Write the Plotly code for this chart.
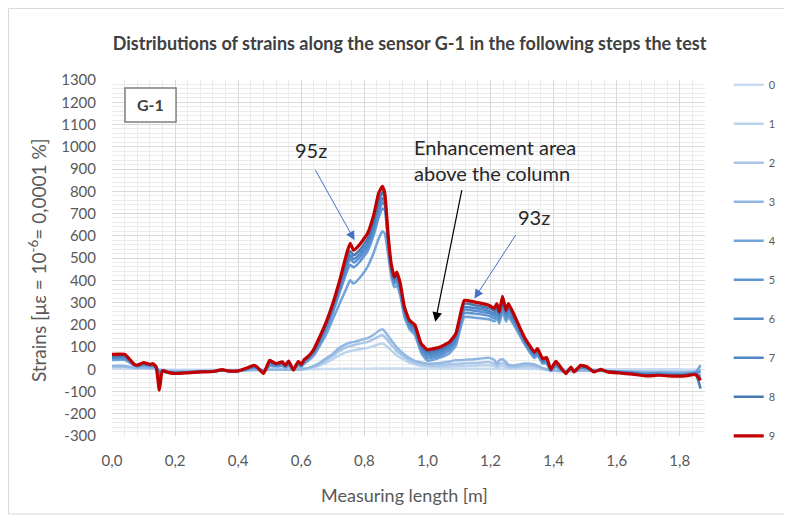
import plotly.graph_objects as go

# ---------------- data ----------------
X = [0.00, 0.04, 0.05, 0.07, 0.08, 0.10, 0.12, 0.13, 0.14, 0.15,
     0.16, 0.18, 0.20, 0.24, 0.28, 0.32, 0.35, 0.37, 0.40, 0.43,
     0.45, 0.46, 0.48, 0.49, 0.50, 0.52, 0.54, 0.55, 0.56, 0.575,
     0.59, 0.60, 0.61, 0.62, 0.64, 0.66, 0.68, 0.70, 0.72, 0.745,
     0.755, 0.766, 0.785, 0.81, 0.83, 0.845, 0.857, 0.865, 0.875, 0.885,
     0.895, 0.903, 0.914, 0.927, 0.943, 0.96, 0.98, 1.00, 1.04, 1.07,
     1.09, 1.105, 1.117, 1.15, 1.195, 1.212, 1.22, 1.228, 1.238, 1.249,
     1.257, 1.28, 1.307, 1.339, 1.349, 1.365, 1.378, 1.391, 1.407, 1.423,
     1.439, 1.455, 1.465, 1.486, 1.507, 1.528, 1.55, 1.571, 1.608, 1.65,
     1.692, 1.734, 1.776, 1.819, 1.85, 1.866]

s0 = [5, 5, 4, 3, 2, 2, 2, 2, 1, 0,
      -1, -2, -2, -2, -2, -2, -2, -2, -2, -1,
      -1, -1, -1, -1, -1, 0, 0, 0, 0, 0,
      0, 0, 0, 0, 0, 1, 1, 1, 2, 2,
      2, 2, 2, 2, 3, 3, 3, 3, 3, 3,
      3, 3, 3, 3, 3, 2, 2, 2, 2, 2,
      2, 2, 2, 2, 2, 2, 2, 2, 2, 2,
      2, 2, 2, 1, 1, 1, 1, 0, 0, 0,
      0, 0, 0, 0, 0, 0, 0, 0, 0, 0,
      0, 0, 0, -1, -1, -1]

s1 = [10, 10, 8, 5, 4, 5, 3, 3, 1, -2,
      -4, -6, -7, -7, -6, -5, -5, -5, -5, -3,
      -3, -3, -3, -2, -2, -2, -2, -2, -2, -2,
      -1, 0, 1, 3, 8, 18, 30, 45, 62, 78,
      82, 85, 90, 96, 104, 112, 116, 110, 98, 85,
      72, 62, 52, 42, 30, 22, 15, 12, 10, 12,
      14, 14, 15, 16, 18, 15, 8, 13, 15, 10,
      6, 5, 8, 7, 5, 0, -3, -5, -7, -8,
      -8, -7, -7, -6, -6, -6, -6, -7, -8, -8,
      -9, -9, -10, -10, -8, -5]

s2 = [12, 12, 10, 6, 5, 6, 4, 4, 1, -3,
      -5, -7, -8, -8, -7, -6, -5, -5, -5, -4,
      -3, -3, -4, -3, -2, -2, -2, -2, -2, -2,
      -1, 0, 1, 4, 12, 25, 42, 60, 82, 100,
      105, 108, 115, 123, 135, 147, 153, 145, 128, 110,
      95, 82, 68, 55, 40, 30, 22, 18, 18, 22,
      25, 25, 27, 28, 32, 26, 15, 24, 28, 20,
      12, 10, 16, 14, 10, 3, -2, -5, -7, -8,
      -9, -8, -8, -7, -7, -7, -7, -8, -9, -10,
      -11, -11, -12, -12, -10, -6]

s3 = [15, 15, 13, 8, 6, 7, 5, 5, 2, -3,
      -5, -8, -9, -9, -8, -7, -6, -6, -6, -4,
      -3, -3, -5, -3, -2, -2, -2, -2, -2, -2,
      -1, 0, 2, 5, 15, 30, 50, 70, 95, 115,
      120, 122, 130, 140, 155, 172, 180, 170, 150, 130,
      112, 98, 82, 66, 50, 38, 30, 25, 28, 35,
      40, 40, 42, 45, 52, 42, 25, 40, 45, 32,
      20, 18, 26, 22, 15, 6, 0, -4, -6, -8,
      -9, -8, -8, -7, -7, -8, -8, -9, -10, -11,
      -13, -13, -14, -14, -12, -8]

s4 = [42, 42, 35, 18, 12, 17, 13, 14, 5, -8,
      -10, -14, -15, -13, -11, -9, -6, -8, -8, 0,
      5, 3, -6, 2, 14, 12, 14, 8, 14, 1,
      15, 10, 25, 36, 62, 108, 160, 225, 290, 370,
      400, 385, 410, 460, 525, 585, 620, 610, 520, 420,
      368, 375, 330, 235, 180, 155, 75, 38, 52, 72,
      105, 185, 235, 232, 225, 215, 230, 205, 260, 215,
      235, 185, 115, 50, 62, 26, 25, -8, 12, -4,
      -10, 1, -7, 4, 2, -6, -4, -8, -11, -14,
      -18, -17, -20, -19, -14, 18]

s5 = [48, 48, 40, 20, 14, 20, 15, 16, 7, -10,
      -10, -14, -16, -14, -11, -9, -5, -8, -8, 1,
      8, 5, -8, 4, 20, 16, 19, 10, 20, 0,
      20, 14, 32, 44, 72, 122, 182, 255, 338, 440,
      470, 458, 482, 530, 605, 680, 722, 715, 570, 442,
      383, 395, 345, 248, 190, 168, 85, 48, 62, 85,
      120, 202, 253, 250, 240, 228, 245, 218, 275, 226,
      246, 192, 120, 55, 68, 30, 30, -6, 16, -2,
      -11, 2, -8, 6, 3, -7, -4, -9, -12, -15,
      -20, -19, -22, -21, -16, -10]

s6 = [52, 52, 44, 22, 15, 22, 16, 18, 8, -15,
      -10, -15, -17, -14, -11, -10, -5, -8, -8, 2,
      10, 6, -10, 5, 24, 18, 22, 12, 24, -1,
      24, 16, 35, 47, 76, 128, 190, 265, 350, 462,
      497, 480, 502, 548, 625, 705, 750, 735, 580, 450,
      390, 405, 355, 255, 198, 175, 92, 58, 72, 95,
      130, 215, 268, 263, 252, 240, 258, 228, 288, 236,
      258, 200, 126, 60, 74, 34, 35, -5, 20, 0,
      -12, 3, -8, 8, 4, -8, -4, -10, -13, -17,
      -22, -21, -24, -23, -18, -30]

s7 = [56, 56, 47, 24, 17, 24, 18, 20, 9, -25,
      -9, -15, -17, -15, -12, -10, -5, -8, -8, 3,
      12, 7, -12, 6, 28, 20, 25, 13, 27, -2,
      27, 18, 38, 50, 80, 135, 198, 275, 362, 480,
      512, 495, 518, 565, 645, 730, 770, 750, 590, 458,
      398, 415, 365, 262, 205, 182, 98, 67, 80, 103,
      140, 225, 280, 275, 262, 250, 270, 238, 300, 245,
      270, 208, 132, 66, 80, 38, 40, -4, 25, 2,
      -14, 4, -9, 10, 5, -9, -3, -10, -14, -18,
      -24, -23, -26, -25, -20, -40]

s8 = [60, 60, 50, 25, 18, 26, 20, 22, 10, -40,
      -8, -15, -18, -15, -12, -10, -4, -8, -8, 4,
      14, 8, -14, 8, 32, 22, 28, 15, 30, -2,
      30, 20, 40, 52, 85, 142, 205, 285, 375, 495,
      532, 512, 535, 585, 665, 755, 795, 770, 600, 465,
      405, 425, 375, 270, 212, 190, 105, 78, 90, 113,
      150, 238, 295, 288, 275, 262, 283, 248, 315, 255,
      283, 218, 138, 72, 86, 42, 46, -2, 30, 5,
      -16, 6, -10, 12, 6, -10, -3, -11, -15, -20,
      -26, -25, -28, -27, -22, -87]

s9 = [67, 67, 55, 22, 18, 30, 22, 25, 10, -94,
      -6, -15, -19, -16, -12, -10, -2, -8, -7, 7,
      18, 10, -19, 10, 40, 25, 33, 18, 37, -4,
      35, 22, 45, 55, 90, 150, 215, 295, 390, 525,
      566, 535, 560, 610, 695, 790, 822, 790, 610, 475,
      415, 437, 385, 280, 220, 200, 115, 88, 100, 123,
      160, 250, 310, 302, 288, 273, 295, 258, 328, 265,
      295, 228, 145, 78, 93, 48, 52, 0, 35, 8,
      -20, 10, -12, 18, 10, -12, -1, -12, -17, -22,
      -30, -27, -31, -30, -24, -50]

SERIES = [s0, s1, s2, s3, s4, s5, s6, s7, s8, s9]
SERIES_NAMES = ["0", "1", "2", "3", "4", "5", "6", "7", "8", "9"]
COLORS = ["#c9dcf2", "#bcd3ee", "#a9c6e8", "#92b8e2", "#72a3d9",
          "#5f97d4", "#5890cf", "#4f86c6", "#4878b2", "#c00000"]
WIDTHS = [2.5, 2.5, 2.5, 2.5, 2.5, 2.5, 2.5, 2.5, 2.5, 3.2]

X_TICKS = [0.0, 0.2, 0.4, 0.6, 0.8, 1.0, 1.2, 1.4, 1.6, 1.8]
X_TICK_TEXT = ["0,0", "0,2", "0,4", "0,6", "0,8", "1,0", "1,2", "1,4", "1,6", "1,8"]
Y_TICKS = [-300, -200, -100, 0, 100, 200, 300, 400, 500, 600, 700, 800, 900,
           1000, 1100, 1200, 1300]
Y_TICK_TEXT = ["-300", "-200", "-100", "0", "100", "200", "300", "400", "500",
               "600", "700", "800", "900", "1000", "1100", "1200", "1300"]

FONT = "Lato"
TXT = "#595959"

fig = go.Figure()
for name, ys, col, w in zip(SERIES_NAMES, SERIES, COLORS, WIDTHS):
    fig.add_trace(go.Scatter(
        x=X, y=ys, mode="lines", name=name, legendgroup=name,
        line=dict(color=col, width=w, shape="spline", smoothing=0.4),
    ))

# the page body adds an 8px offset, so the figure is laid out 8px up/left
fig.update_layout(
    width=792, height=520,
    margin=dict(l=104, r=95, t=72, b=92, autoexpand=False),
    paper_bgcolor="white", plot_bgcolor="white",
    font=dict(family=FONT, color=TXT),
    title=dict(
        text="<b>Distributions of strains along the sensor G-1 in the following steps the test</b>",
        x=0.507, xanchor="center", y=0.9308, yanchor="middle",
        font=dict(family=FONT, size=18, color="#404040"),
    ),
    showlegend=True,
    legend=dict(
        x=1.04, xanchor="left", y=1.0272, yanchor="top",
        traceorder="grouped", tracegroupgap=20, maxheight=480,
        font=dict(family=FONT, size=11, color=TXT),
        bgcolor="rgba(0,0,0,0)",
    ),
    xaxis=dict(
        range=[0, 1.88], tickvals=X_TICKS, ticktext=X_TICK_TEXT,
        showgrid=True, gridcolor="#d9d9d9", gridwidth=1,
        minor=dict(dtick=0.04, showgrid=True, gridcolor="#ebebeb", gridwidth=1),
        zeroline=False, showline=False, ticks="",
        ticklabelstandoff=14,
        tickfont=dict(family=FONT, size=15, color=TXT),
    ),
    yaxis=dict(
        range=[-300, 1300], tickvals=Y_TICKS, ticktext=Y_TICK_TEXT,
        showgrid=True, gridcolor="#d9d9d9", gridwidth=1,
        minor=dict(dtick=20, showgrid=True, gridcolor="#ebebeb", gridwidth=1),
        zeroline=False, showline=False, ticks="",
        ticklabelstandoff=15,
        tickfont=dict(family=FONT, size=15, color=TXT),
    ),
)

# outer chart border
fig.add_shape(type="rect", xref="paper", yref="paper",
              x0=-0.1745, x1=1.1366, y0=-0.2191, y1=1.2008,
              line=dict(color="#d9d9d9", width=1), fillcolor="rgba(0,0,0,0)",
              layer="below")

# G-1 label box
fig.add_shape(type="rect", xref="paper", yref="paper",
              x0=0.0219, x1=0.108, y0=0.882, y1=0.9775,
              line=dict(color="#7f7f7f", width=1.5), fillcolor="white")
fig.add_annotation(xref="paper", yref="paper", x=0.065, y=0.930,
                   xanchor="center", yanchor="middle",
                   text="<b>G-1</b>", showarrow=False,
                   font=dict(family=FONT, size=16, color="#404040"))

# axis titles
fig.add_annotation(xref="paper", yref="paper", x=-0.1265, y=0.494,
                   xanchor="center", yanchor="middle",
                   text="Strains [με = 10<sup>-6</sup>= 0,0001 %]",
                   textangle=-90, showarrow=False,
                   font=dict(family=FONT, size=19, color=TXT))
fig.add_annotation(xref="paper", yref="paper", x=0.494, y=-0.166,
                   xanchor="center", yanchor="middle",
                   text="Measuring length [m]", showarrow=False,
                   font=dict(family=FONT, size=18, color=TXT))

# callouts
ANN_FONT = dict(family=FONT, size=20, color="#262626")
fig.add_annotation(x=0.632, y=987, text="95z", showarrow=False, font=ANN_FONT)
fig.add_annotation(x=0.769, y=580, ax=0.642, ay=902, axref="x", ayref="y",
                   text="", showarrow=True, arrowhead=2, arrowsize=1.8,
                   arrowwidth=1, arrowcolor="#4472c4")
fig.add_annotation(x=1.339, y=686, text="93z", showarrow=False, font=ANN_FONT)
fig.add_annotation(x=1.149, y=318, ax=1.283, ay=610, axref="x", ayref="y",
                   text="", showarrow=True, arrowhead=2, arrowsize=1.8,
                   arrowwidth=1, arrowcolor="#4472c4")
fig.add_annotation(x=0.95, y=942, xanchor="left", yanchor="middle", align="left",
                   text="Enhancement area<br>above the column", showarrow=False,
                   font=ANN_FONT)
fig.add_annotation(x=1.025, y=213, ax=1.110, ay=812, axref="x", ayref="y",
                   text="", showarrow=True, arrowhead=2, arrowsize=1.6,
                   arrowwidth=1.2, arrowcolor="#000000")

fig.write_html("out.html")
